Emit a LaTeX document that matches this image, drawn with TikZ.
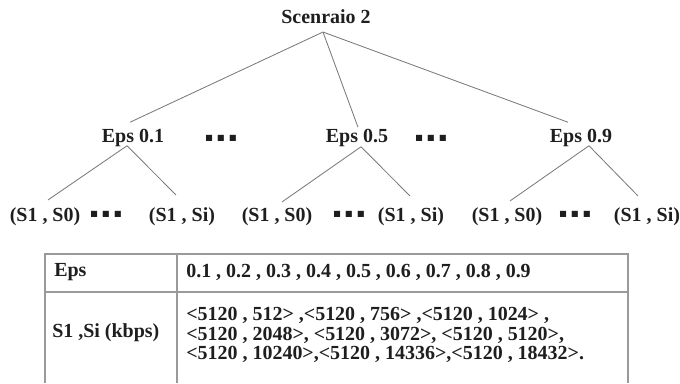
\documentclass[tikz,border=0pt]{standalone}
\usepackage{fontspec}
\setmainfont{Liberation Serif}
\newfontfamily\symfont{DejaVu Sans}
\usetikzlibrary{positioning}
\definecolor{linegray}{HTML}{7A7A7A}
\definecolor{tblgray}{HTML}{9A9A9A}
\definecolor{inkblack}{HTML}{1E1E1E}
\newcommand{\sqdots}{■\hspace{3pt}■\hspace{3pt}■}
\begin{document}
\begin{tikzpicture}[
        x=0.025cm, y=-0.025cm,
        font=\fontsize{14.2}{13.9}\selectfont\bfseries,
        text=inkblack
    ]
    \tikzset{
        lbl/.style = {inner sep=0pt, outer sep=0pt},
        dotsn/.style = {inner sep=0pt, font=\fontsize{5.7}{6}\selectfont\symfont},
        cell/.style = {inner sep=0pt, anchor=west, align=left},
        link/.style = {-, line width=0.6pt, linegray},
        tbl/.style = {-, line width=0.8pt, tblgray},
    }
    \useasboundingbox (0,0) rectangle (680,383);
    %
    \node[lbl] (root) at (326,17) {Scenraio 2};
    \node[lbl] (e1) at (133,138) {Eps 0.1};
    \node[lbl] (e5) at (357,138) {Eps 0.5};
    \node[lbl] (e9) at (581,138) {Eps 0.9};
    \node[dotsn] (d1) at (221,138) {\sqdots};
    \node[dotsn] (d2) at (431,138) {\sqdots};
    %
    \node[lbl] (s1a) at (45,217) {(S1 , S0)};
    \node[lbl] (s1b) at (182,217) {(S1 , Si)};
    \node[lbl] (s5a) at (277,217) {(S1 , S0)};
    \node[lbl] (s5b) at (411,217) {(S1 , Si)};
    \node[lbl] (s9a) at (507,217) {(S1 , S0)};
    \node[lbl] (s9b) at (647,217) {(S1 , Si)};
    \node[dotsn] (b1) at (106,214) {\sqdots};
    \node[dotsn] (b2) at (349,214) {\sqdots};
    \node[dotsn] (b3) at (575,214) {\sqdots};
    %
    \draw[link] ([shift={(-3,8)}]root.south) -- ([shift={(-3,-7)}]e1.north);
    \draw[link] ([shift={(-3,8)}]root.south) -- ([shift={(1,-2)}]e5.north);
    \draw[link] ([shift={(-3,8)}]root.south) -- ([shift={(-13,-7)}]e9.north);
    %
    \draw[link] ([shift={(-6,-1)}]e1.south) -- ([shift={(3,-8)}]s1a.north);
    \draw[link] ([shift={(-6,-1)}]e1.south) -- ([shift={(-6,-13)}]s1b.north);
    \draw[link] ([shift={(4,0)}]e5.south) -- ([shift={(5,-6)}]s5a.north);
    \draw[link] ([shift={(4,0)}]e5.south) -- ([shift={(-1,-12)}]s5b.north);
    \draw[link] ([shift={(8,-1)}]e9.south) -- ([shift={(3,-7)}]s9a.north);
    \draw[link] ([shift={(8,-1)}]e9.south) -- ([shift={(-9,-12)}]s9b.north);
    %
    \draw[tbl] (45,383) -- (45,254) -- (628,254) -- (628,383);
    \draw[tbl] (45,292) -- (628,292);
    \draw[tbl] (177,254) -- (177,383);
    \node[cell] (teps) at (54,272) {Eps};
    \node[cell] (tval) at (186,272) {0.1 , 0.2 , 0.3 , 0.4 , 0.5 , 0.6 , 0.7 , 0.8 , 0.9};
    \node[cell] (trate) at (52,333) {S1 ,Si (kbps)};
    \node[cell] (tlist) at (186,335) {<5120 , 512> ,<5120 , 756> ,<5120 , 1024> ,\\
        <5120 , 2048>, <5120 , 3072>, <5120 , 5120>,\\
        <5120 , 10240>,<5120 , 14336>,<5120 , 18432>.};
\end{tikzpicture}
\end{document}
